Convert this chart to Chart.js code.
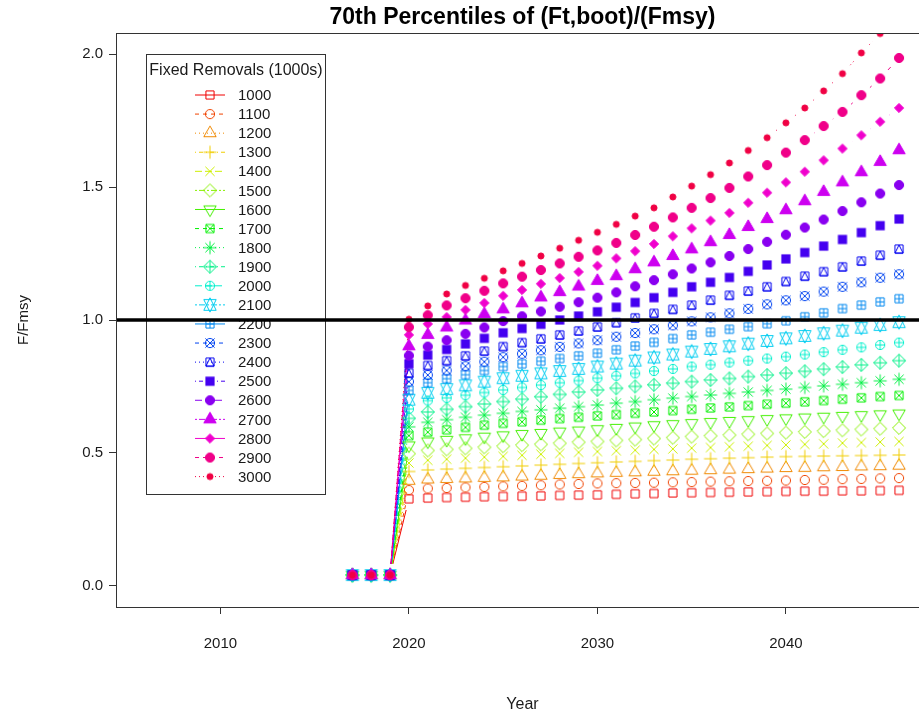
<!DOCTYPE html>
<html>
<head>
<meta charset="utf-8">
<script src="https://cdn.jsdelivr.net/npm/chart.js@4.4.0/dist/chart.umd.min.js"></script>
<style>
  html, body { margin: 0; padding: 0; background: #fff; overflow: hidden; width: 919px; height: 718px; }
  #wrap { position: absolute; left: 0; top: 0; width: 940px; height: 718px; }
</style>
</head>
<body>
<div id="wrap"><canvas id="chart" width="940" height="718"></canvas></div>
<script>
// ---- data -------------------------------------------------------------
const years = [2017, 2018, 2019, 2020, 2021, 2022, 2023, 2024, 2025, 2026, 2027, 2028, 2029, 2030,
               2031, 2032, 2033, 2034, 2035, 2036, 2037, 2038, 2039, 2040, 2041, 2042, 2043, 2044, 2045, 2046];

const removals = ['1000', '1100', '1200', '1300', '1400', '1500', '1600', '1700', '1800', '1900', '2000',
                  '2100', '2200', '2300', '2400', '2500', '2600', '2700', '2800', '2900', '3000'];

const yTicks = [0, 0.5, 1.0, 1.5, 2.0];
const xTicks = [2010, 2020, 2030, 2040];
const fmsyRef = 1.0;

// 70th percentile of F/Fmsy by fixed removal level, 2017-2046
const r1000 = [0.04, 0.04, 0.04, .327, .330, .332, .333, .335, .336, .337, .338, .340, .341, .342, .344, .346, .347, .349, .350, .351, .352, .353, .354, .355, .356, .356, .357, .357, .358, .359];
const r1100 = [0.04, 0.04, 0.04, .360, .366, .368, .370, .372, .374, .376, .378, .381, .383, .385, .386, .387, .388, .389, .390, .392, .393, .394, .395, .396, .398, .399, .401, .402, .404, .405];
const r1200 = [0.04, 0.04, 0.04, .395, .400, .402, .404, .406, .408, .411, .414, .417, .420, .423, .425, .427, .429, .431, .433, .435, .437, .439, .441, .443, .444, .446, .447, .449, .450, .452];
const r1300 = [0.04, 0.04, 0.04, .430, .436, .439, .442, .445, .448, .451, .454, .457, .460, .463, .466, .468, .471, .473, .476, .478, .480, .482, .484, .486, .487, .488, .489, .490, .491, .492];
const r1400 = [0.04, 0.04, 0.04, .462, .472, .476, .480, .484, .487, .491, .495, .498, .502, .505, .508, .510, .513, .515, .518, .520, .523, .525, .528, .530, .532, .534, .537, .539, .541, .543];
const r1500 = [0.04, 0.04, 0.04, .497, .509, .513, .517, .521, .525, .529, .532, .536, .540, .543, .547, .550, .554, .557, .561, .564, .567, .570, .573, .576, .579, .582, .585, .588, .591, .594];
const r1600 = [0.04, 0.04, 0.04, .528, .543, .549, .555, .561, .566, .571, .575, .580, .584, .589, .594, .599, .604, .608, .612, .616, .620, .623, .627, .630, .633, .636, .639, .642, .645, .648];
const r1700 = [0.04, 0.04, 0.04, .565, .578, .587, .596, .604, .611, .617, .623, .629, .634, .639, .644, .649, .654, .659, .664, .669, .673, .678, .683, .687, .692, .697, .702, .707, .712, .716];
const r1800 = [0.04, 0.04, 0.04, .598, .615, .625, .634, .642, .649, .656, .662, .668, .674, .680, .687, .693, .700, .706, .712, .718, .724, .729, .735, .740, .746, .752, .758, .764, .771, .777];
const r1900 = [0.04, 0.04, 0.04, .630, .654, .664, .674, .684, .693, .702, .711, .720, .729, .737, .743, .750, .756, .762, .768, .774, .780, .787, .793, .800, .807, .815, .823, .831, .839, .847];
const r2000 = [0.04, 0.04, 0.04, .665, .697, .707, .717, .727, .737, .746, .755, .764, .772, .781, .790, .799, .808, .816, .825, .832, .840, .847, .855, .862, .870, .879, .888, .897, .906, .915];
const r2100 = [0.04, 0.04, 0.04, .700, .726, .740, .754, .768, .781, .790, .799, .808, .816, .825, .836, .847, .859, .870, .881, .891, .901, .911, .921, .931, .940, .950, .960, .971, .981, .992];
const r2200 = [0.04, 0.04, 0.04, .735, .764, .779, .794, .810, .825, .835, .845, .855, .865, .875, .888, .902, .916, .930, .944, .954, .965, .975, .986, .997, 1.012, 1.027, 1.043, 1.056, 1.068, 1.080];
const r2300 = [0.04, 0.04, 0.04, .768, .793, .810, .826, .843, .860, .873, .886, .899, .912, .924, .937, .951, .965, .980, .995, 1.010, 1.025, 1.042, 1.059, 1.074, 1.090, 1.107, 1.125, 1.142, 1.159, 1.172];
const r2400 = [0.04, 0.04, 0.04, .800, .829, .847, .865, .883, .900, .915, .929, .944, .959, .974, .990, 1.008, 1.025, 1.040, 1.056, 1.075, 1.093, 1.109, 1.125, 1.145, 1.165, 1.182, 1.200, 1.222, 1.244, 1.267];
const r2500 = [0.04, 0.04, 0.04, .835, .868, .889, .910, .931, .952, .968, .984, 1.000, 1.015, 1.031, 1.048, 1.066, 1.084, 1.104, 1.125, 1.142, 1.160, 1.183, 1.207, 1.230, 1.254, 1.278, 1.303, 1.329, 1.355, 1.380];
const r2600 = [0.04, 0.04, 0.04, .866, .900, .924, .948, .972, .996, 1.014, 1.032, 1.050, 1.067, 1.084, 1.104, 1.127, 1.150, 1.172, 1.194, 1.217, 1.241, 1.267, 1.294, 1.321, 1.348, 1.378, 1.410, 1.443, 1.476, 1.508];
const r2700 = [0.04, 0.04, 0.04, .901, .944, .972, .998, 1.022, 1.040, 1.063, 1.085, 1.105, 1.126, 1.147, 1.165, 1.191, 1.217, 1.241, 1.266, 1.293, 1.320, 1.350, 1.380, 1.413, 1.447, 1.482, 1.518, 1.556, 1.595, 1.639];
const r2800 = [0.04, 0.04, 0.04, .944, .985, 1.011, 1.038, 1.064, 1.091, 1.113, 1.136, 1.158, 1.181, 1.204, 1.232, 1.259, 1.286, 1.315, 1.345, 1.374, 1.403, 1.441, 1.479, 1.518, 1.558, 1.601, 1.645, 1.695, 1.746, 1.798];
const r2900 = [0.04, 0.04, 0.04, .973, 1.018, 1.055, 1.082, 1.110, 1.138, 1.163, 1.188, 1.213, 1.238, 1.262, 1.290, 1.320, 1.351, 1.386, 1.422, 1.459, 1.497, 1.540, 1.583, 1.630, 1.677, 1.730, 1.783, 1.846, 1.909, 1.986];
const r3000 = [0.04, 0.04, 0.04, 1.003, 1.053, 1.098, 1.130, 1.157, 1.185, 1.213, 1.241, 1.270, 1.300, 1.330, 1.360, 1.391, 1.422, 1.463, 1.504, 1.547, 1.591, 1.638, 1.686, 1.742, 1.798, 1.862, 1.927, 2.005, 2.078, 2.160];

const seriesValues = [r1000, r1100, r1200, r1300, r1400, r1500, r1600, r1700, r1800, r1900, r2000,
                      r2100, r2200, r2300, r2400, r2500, r2600, r2700, r2800, r2900, r3000];

// ---- styles -----------------------------------------------------------
const FONT = '"Liberation Sans", Arial, Helvetica, sans-serif';
const TEXT = '#1a1a1a';
const n = seriesValues.length;
// rainbow palette: evenly spaced hues from red round to crimson
const colors = seriesValues.map((_, i) => `hsl(${(i * 360 / n).toFixed(1)}, 100%, 47%)`);
// line types cycle: solid, dashed, dotted, dotdash, longdash, twodash
const dashes = [[], [4, 4], [1, 3], [1, 3, 4, 3], [7, 3], [2, 2, 6, 2]];
const GAP = 11.5;          // gap left around each plotted symbol on connecting lines
const U = 4.6;             // symbol radius unit (px)

function makeSymbol(pch, color) {
  const S = 26, c = S / 2;
  const cv = document.createElement('canvas');
  cv.width = S; cv.height = S;
  const g = cv.getContext('2d');
  g.strokeStyle = color; g.fillStyle = color; g.lineWidth = 1;
  const SQRC = 0.88622692545275801364;
  const TRC0 = Math.sqrt(4 * Math.PI / (3 * Math.sqrt(3)));
  const TRC1 = TRC0 * Math.sqrt(3) / 2, TRC2 = TRC0 / 2;
  const seg = (x0, y0, x1, y1) => { g.beginPath(); g.moveTo(c + x0, c + y0); g.lineTo(c + x1, c + y1); g.stroke(); };
  const poly = (pts, fill) => {
    g.beginPath();
    pts.forEach(([x, y], k) => k ? g.lineTo(c + x, c + y) : g.moveTo(c + x, c + y));
    g.closePath();
    if (fill) g.fill();
    g.stroke();
  };
  const circ = (r, fill) => { g.beginPath(); g.arc(c, c, r, 0, 2 * Math.PI); if (fill) g.fill(); g.stroke(); };
  const sq = U * SQRC, r2 = U * Math.SQRT2;
  const triUp = (fill) => poly([[0, -TRC0 * U], [TRC1 * U, TRC2 * U], [-TRC1 * U, TRC2 * U]], fill);
  const triDown = () => poly([[0, TRC0 * U], [TRC1 * U, -TRC2 * U], [-TRC1 * U, -TRC2 * U]], false);
  switch (pch) {
    case 0: poly([[-sq, -sq], [sq, -sq], [sq, sq], [-sq, sq]]); break;
    case 1: circ(U); break;
    case 2: triUp(false); break;
    case 3: seg(-r2, 0, r2, 0); seg(0, -r2, 0, r2); break;
    case 4: seg(-U, -U, U, U); seg(-U, U, U, -U); break;
    case 5: poly([[0, -r2], [r2, 0], [0, r2], [-r2, 0]]); break;
    case 6: triDown(); break;
    case 7: poly([[-sq, -sq], [sq, -sq], [sq, sq], [-sq, sq]]); seg(-sq, -sq, sq, sq); seg(-sq, sq, sq, -sq); break;
    case 8: seg(-U, -U, U, U); seg(-U, U, U, -U); seg(-r2, 0, r2, 0); seg(0, -r2, 0, r2); break;
    case 9: poly([[0, -r2], [r2, 0], [0, r2], [-r2, 0]]); seg(-r2, 0, r2, 0); seg(0, -r2, 0, r2); break;
    case 10: circ(U); seg(-U, 0, U, 0); seg(0, -U, 0, U); break;
    case 11: {
      const r = TRC0 * U, yc = 0.5 * (TRC2 * U + r), xc = TRC1 * U;
      poly([[0, r], [xc, -yc], [-xc, -yc]]);
      poly([[0, -r], [xc, yc], [-xc, yc]]);
      break;
    }
    case 12: poly([[-sq, -sq], [sq, -sq], [sq, sq], [-sq, sq]]); seg(-sq, 0, sq, 0); seg(0, -sq, 0, sq); break;
    case 13: circ(U); seg(-U, -U, U, U); seg(-U, U, U, -U); break;
    case 14: poly([[-sq, -sq], [sq, -sq], [sq, sq], [-sq, sq]]); poly([[0, -sq], [sq, sq], [-sq, sq]]); break;
    case 15: g.fillRect(c - U, c - U, 2 * U, 2 * U); break;
    case 16: circ(U, true); break;
    case 17: triUp(true); break;
    case 18: poly([[0, -U], [U, 0], [0, U], [-U, 0]], true); break;
    case 19: circ(U, true); break;
    case 20: circ(U * 2 / 3, true); break;
  }
  return cv;
}

const symbols = seriesValues.map((_, i) => makeSymbol(i, colors[i]));

// ---- plugins ----------------------------------------------------------
// broken connecting lines between successive points (gap around each symbol)
const connectorPlugin = {
  id: 'connectors',
  beforeDatasetsDraw(chart) {
    const { ctx, chartArea: a } = chart;
    ctx.save();
    ctx.beginPath();
    ctx.rect(a.left, a.top, a.right - a.left, a.bottom - a.top);
    ctx.clip();
    chart.data.datasets.forEach((ds, i) => {
      const pts = chart.getDatasetMeta(i).data;
      ctx.strokeStyle = colors[i];
      ctx.lineWidth = 1;
      ctx.setLineDash(dashes[i % dashes.length]);
      for (let j = 0; j + 1 < pts.length; j++) {
        const p = pts[j], q = pts[j + 1];
        const dx = q.x - p.x, dy = q.y - p.y, d = Math.hypot(dx, dy);
        const f = GAP / d;
        if (!(f < 0.5)) continue;
        ctx.beginPath();
        ctx.moveTo(p.x + f * dx, p.y + f * dy);
        ctx.lineTo(q.x - f * dx, q.y - f * dy);
        ctx.stroke();
      }
    });
    ctx.restore();
  }
};

// title, legend box, reference line at F/Fmsy = 1 and plot frame
const decorPlugin = {
  id: 'decor',
  afterDatasetsDraw(chart) {
    const { ctx, chartArea: a, scales } = chart;
    ctx.save();

    // main title, centred over the plotting region
    ctx.fillStyle = '#000';
    ctx.font = `bold 23px ${FONT}`;
    ctx.textAlign = 'center';
    ctx.textBaseline = 'middle';
    ctx.fillText('70th Percentiles of (Ft,boot)/(Fmsy)', (a.left + a.right) / 2, 18);

    // legend
    const bx = 146.5, by = 54.5, bw = 179, bh = 440;
    ctx.strokeStyle = '#333';
    ctx.lineWidth = 1;
    ctx.setLineDash([]);
    ctx.strokeRect(bx, by, bw, bh);
    ctx.fillStyle = TEXT;
    ctx.font = `16px ${FONT}`;
    ctx.textAlign = 'center';
    ctx.fillText('Fixed Removals (1000s)', bx + bw / 2, 71);
    ctx.font = `15px ${FONT}`;
    chart.data.datasets.forEach((ds, i) => {
      const y = 95 + i * 19.08;
      ctx.strokeStyle = colors[i];
      ctx.setLineDash(dashes[i % dashes.length]);
      ctx.beginPath();
      ctx.moveTo(195, y);
      ctx.lineTo(225, y);
      ctx.stroke();
      ctx.setLineDash([]);
      const s = symbols[i];
      ctx.drawImage(s, 210 - s.width / 2, y - s.height / 2);
      ctx.fillStyle = TEXT;
      ctx.textAlign = 'left';
      ctx.fillText(ds.label, 238, y + 1);
    });

    // reference line
    const yr = scales.y.getPixelForValue(fmsyRef);
    ctx.strokeStyle = '#000';
    ctx.lineWidth = 3.5;
    ctx.beginPath();
    ctx.moveTo(a.left, yr);
    ctx.lineTo(a.right, yr);
    ctx.stroke();

    // frame
    ctx.strokeStyle = '#333';
    ctx.lineWidth = 1;
    ctx.strokeRect(Math.round(a.left) + 0.5, Math.round(a.top) + 0.5, a.right - a.left, a.bottom - a.top);
    ctx.restore();
  }
};

// ---- chart ------------------------------------------------------------
const datasets = seriesValues.map((vals, i) => ({
  label: removals[i],
  data: years.map((yr, j) => ({ x: yr, y: vals[j] })),
  showLine: false,
  pointStyle: symbols[i],
  pointRadius: 5,
  pointHoverRadius: 5,
  borderColor: colors[i],
  backgroundColor: colors[i],
  order: n - 1 - i,
  clip: 0
}));

const tickFont = { family: FONT, size: 15 };

new Chart(document.getElementById('chart'), {
  type: 'scatter',
  data: { datasets },
  options: {
    responsive: false,
    animation: false,
    devicePixelRatio: 1,
    events: [],
    layout: { padding: { left: 0, top: 33, right: 11, bottom: 0 } },
    plugins: { legend: { display: false }, title: { display: false }, tooltip: { enabled: false } },
    scales: {
      x: {
        type: 'linear',
        min: 2004.46,
        max: 2047.59,
        afterFit: (s) => { s.height = 111; },
        afterBuildTicks: (s) => { s.ticks = xTicks.map(v => ({ value: v })); },
        ticks: { color: TEXT, font: tickFont, padding: 21, maxRotation: 0, autoSkip: false, callback: (v) => String(v) },
        grid: { display: true, drawOnChartArea: false, drawTicks: true, tickLength: 7, color: '#333' },
        border: { display: false },
        title: { display: true, text: 'Year', color: TEXT, font: { family: FONT, size: 16 }, padding: { top: 0, bottom: 4 } }
      },
      y: {
        type: 'linear',
        min: -0.08,
        max: 2.08,
        afterFit: (s) => { s.width = 116; },
        afterBuildTicks: (s) => { s.ticks = yTicks.map(v => ({ value: v })); },
        ticks: { color: TEXT, font: tickFont, padding: 6, callback: (v) => v.toFixed(1) },
        grid: { display: true, drawOnChartArea: false, drawTicks: true, tickLength: 7, color: '#333' },
        border: { display: false },
        title: { display: true, text: 'F/Fmsy', color: TEXT, font: { family: FONT, size: 15 }, padding: { top: 15, bottom: 0 } }
      }
    }
  },
  plugins: [connectorPlugin, decorPlugin]
});
</script>
</body>
</html>
